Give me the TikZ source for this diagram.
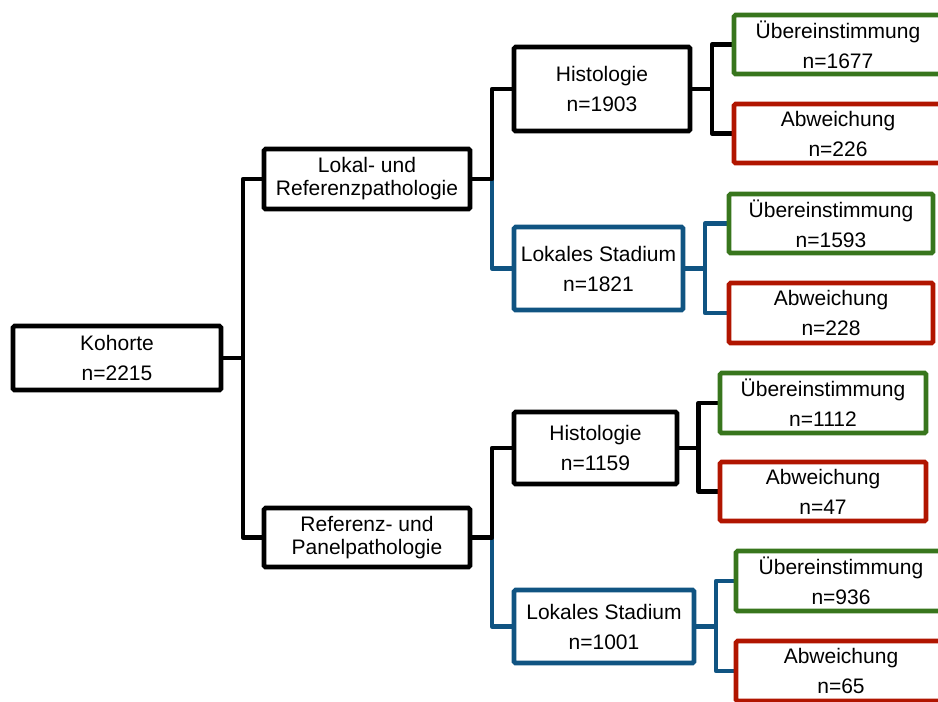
\documentclass[tikz,border=0pt]{standalone}
\usepackage{fontspec}
\setmainfont{Liberation Sans}
\usetikzlibrary{backgrounds}
\definecolor{cblue}{HTML}{105482}
\definecolor{cgreen}{HTML}{38761D}
\definecolor{cred}{HTML}{B11500}
\tikzset{
  box/.style={draw, line width=4.6pt, rounded corners=1.5pt, inner sep=0pt, align=center,
    font=\fontsize{21}{30}\selectfont, fill=white},
  tightbox/.style={box, font=\fontsize{21}{23}\selectfont},
  bluebox/.style={box, draw=cblue},
  greenbox/.style={box, draw=cgreen},
  redbox/.style={box, draw=cred},
  conn/.style={line width=4.6pt, line join=round},
  bconn/.style={conn, draw=cblue},
}
\begin{document}
\begin{tikzpicture}[x=1pt,y=-1pt]
\useasboundingbox (0,0) rectangle (938,702);
\clip (0,0) rectangle (938,702);

% boxes
\node[box, minimum width=208pt, minimum height=64pt] (koh) at (117,358) {Kohorte\\n=2215};
\node[tightbox, minimum width=206pt, minimum height=60pt] (lok) at (367,179) {Lokal- und\\Referenzpathologie};
\node[tightbox, minimum width=206pt, minimum height=59pt] (ref) at (367,537.5) {Referenz- und\\Panelpathologie};
\node[box, minimum width=176pt, minimum height=84pt] (h1) at (602,89) {Histologie\\n=1903};
\node[bluebox, minimum width=169pt, minimum height=83pt] (ls1) at (598.5,268.5) {Lokales Stadium\\n=1821};
\node[box, minimum width=163pt, minimum height=72pt] (h2) at (595.5,448) {Histologie\\n=1159};
\node[bluebox, minimum width=180pt, minimum height=73pt] (ls2) at (604,626.5) {Lokales Stadium\\n=1001};

\node[greenbox, minimum width=208pt, minimum height=59pt] (g1) at (838,44.5) {Übereinstimmung\\n=1677};
\node[redbox, minimum width=208pt, minimum height=59pt] (r1) at (838,133.5) {Abweichung\\n=226};
\node[greenbox, minimum width=204pt, minimum height=59pt] (g2) at (831,223.5) {Übereinstimmung\\n=1593};
\node[redbox, minimum width=204pt, minimum height=60pt] (r2) at (831,313) {Abweichung\\n=228};
\node[greenbox, minimum width=206pt, minimum height=60pt] (g3) at (823,403) {Übereinstimmung\\n=1112};
\node[redbox, minimum width=206pt, minimum height=59pt] (r3) at (823,491.5) {Abweichung\\n=47};
\node[greenbox, minimum width=210pt, minimum height=60pt] (g4) at (841,581) {Übereinstimmung\\n=936};
\node[redbox, minimum width=210pt, minimum height=60pt] (r4) at (841,671) {Abweichung\\n=65};

% junction coordinates
\coordinate (j1) at (243,358);
\coordinate (j2) at (492,179);
\coordinate (j3) at (712,89);
\coordinate (j4) at (705,268.5);
\coordinate (j5) at (492,537.5);
\coordinate (j6) at (698.5,448);
\coordinate (j7) at (716,626.5);

% connectors (behind the boxes)
\begin{scope}[on background layer]
\draw[bconn] (j2) |- (ls1.west);
\draw[bconn] (j5) |- (ls2.west);
\draw[conn] (koh.east) -- (j1);
\draw[conn] (lok.west) -| (j1) |- (ref.west);
\draw[conn] (lok.east) -- (j2) |- (h1.west);
\draw[conn] (ref.east) -- (j5) |- (h2.west);
\draw[conn] (h1.east) -- (j3);
\draw[conn] (g1.west) -| (j3) |- (r1.west);
\draw[bconn] (ls1.east) -- (j4);
\draw[bconn] (g2.west) -| (j4) |- (r2.west);
\draw[conn] (h2.east) -- (j6);
\draw[conn] (g3.west) -| (j6) |- (r3.west);
\draw[bconn] (ls2.east) -- (j7);
\draw[bconn] (g4.west) -| (j7) |- (r4.west);
\end{scope}
\end{tikzpicture}
\end{document}
